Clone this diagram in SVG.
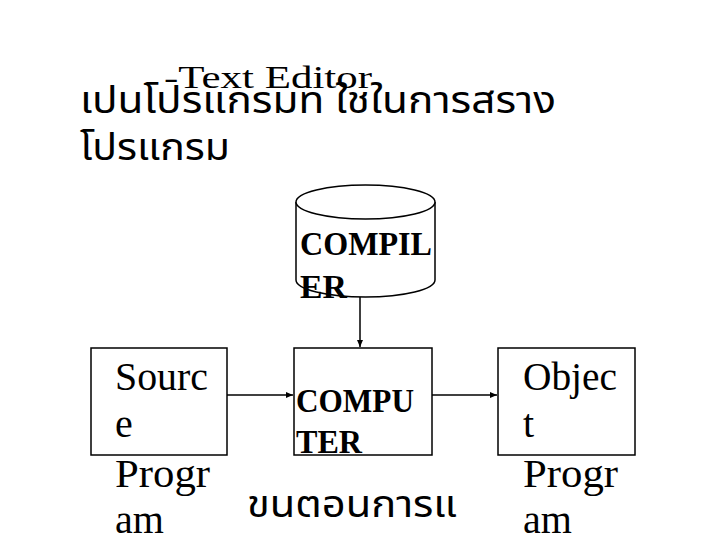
<svg xmlns="http://www.w3.org/2000/svg" width="720" height="540" viewBox="0 0 720 540">
<style>
.box{fill:#fff;stroke:#000;stroke-width:1.5}
.ser{font-family:"Liberation Serif","DejaVu Serif",serif;fill:#000}
.lbl{font-size:40px}
.bold{font-size:34px;font-weight:bold}
.thai{font-family:"Noto Sans Thai","Noto Sans","DejaVu Sans",sans-serif;font-size:37px;fill:#000}
.conn{stroke:#000;stroke-width:1.5;fill:none}
</style>
<defs>
<marker id="ah" markerWidth="8" markerHeight="8" refX="7" refY="4" orient="auto" markerUnits="userSpaceOnUse">
<path d="M0,1 L7,4 L0,7 Z" fill="#000"/>
</marker>
</defs>
<rect width="720" height="540" fill="#fff"/>
<g id="title">
<text class="ser" x="164" y="88" font-size="31" textLength="208" lengthAdjust="spacingAndGlyphs">-Text Editor</text>
<text class="thai" x="80" y="113" textLength="476" lengthAdjust="spacingAndGlyphs">เปนโปรแกรมท ใชในการสราง</text>
<text class="thai" x="80" y="160" textLength="150" lengthAdjust="spacingAndGlyphs">โปรแกรม</text>
</g>
<g id="compiler">
<path class="box" d="M296,202 L296,280 A69.5,17 0 0 0 435,280 L435,202"/>
<ellipse class="box" cx="365.5" cy="202" rx="69.5" ry="17"/>
<text class="ser bold" x="300" y="255" textLength="132" lengthAdjust="spacingAndGlyphs">COMPIL</text>
<text class="ser bold" x="300" y="298" textLength="47" lengthAdjust="spacingAndGlyphs">ER</text>
</g>
<g id="source">
<rect class="box" x="91" y="348" width="136" height="107"/>
<text class="ser lbl" x="115" y="390" textLength="93" lengthAdjust="spacingAndGlyphs">Sourc</text>
<text class="ser lbl" x="115" y="437">e</text>
<text class="ser lbl" x="115" y="487" textLength="95" lengthAdjust="spacingAndGlyphs">Progr</text>
<text class="ser lbl" x="115" y="533">am</text>
</g>
<g id="computer">
<rect class="box" x="294" y="348" width="138" height="107"/>
<text class="ser bold" x="296" y="412" textLength="118" lengthAdjust="spacingAndGlyphs">COMPU</text>
<text class="ser bold" x="296" y="453" textLength="66" lengthAdjust="spacingAndGlyphs">TER</text>
</g>
<g id="object">
<rect class="box" x="498" y="348" width="137" height="107"/>
<text class="ser lbl" x="523" y="390" textLength="94" lengthAdjust="spacingAndGlyphs">Objec</text>
<text class="ser lbl" x="523" y="437">t</text>
<text class="ser lbl" x="523" y="487" textLength="95" lengthAdjust="spacingAndGlyphs">Progr</text>
<text class="ser lbl" x="523" y="533">am</text>
</g>
<g id="caption">
<text class="thai" x="247" y="517" textLength="210" lengthAdjust="spacingAndGlyphs">ขนตอนการแ</text>
</g>
<g id="connectors">
<line class="conn" x1="360" y1="297" x2="360" y2="347" marker-end="url(#ah)"/>
<line class="conn" x1="227" y1="395" x2="293" y2="395" marker-end="url(#ah)"/>
<line class="conn" x1="432" y1="395" x2="497" y2="395" marker-end="url(#ah)"/>
</g>
</svg>
